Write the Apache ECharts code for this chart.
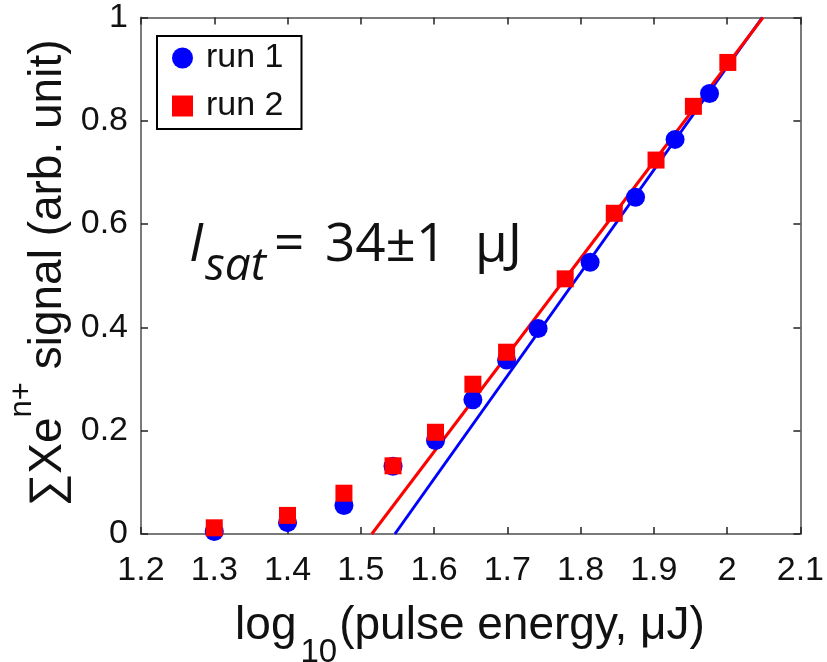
<!DOCTYPE html>
<html><head><meta charset="utf-8">
<script src="https://cdn.jsdelivr.net/npm/echarts@6/dist/echarts.min.js"></script>
<style>html,body{margin:0;padding:0;background:#fff}#c{width:827px;height:662px}</style>
</head><body><div id="c"></div>
<script>
const run1X = [1.300, 1.400, 1.477, 1.544, 1.602, 1.653, 1.699, 1.742, 1.813, 1.875, 1.929, 1.976];
const run1Y = [0.005, 0.022, 0.055, 0.131, 0.181, 0.260, 0.337, 0.398, 0.526, 0.652, 0.764, 0.853];
const run2X = [1.300, 1.400, 1.477, 1.544, 1.602, 1.653, 1.699, 1.779, 1.846, 1.903, 1.954, 2.001];
const run2Y = [0.012, 0.036, 0.079, 0.132, 0.197, 0.290, 0.352, 0.494, 0.621, 0.724, 0.828, 0.913];
const fit1X = [1.5465, 2.048];
const fit1Y = [0, 1];
const fit2X = [1.515, 2.049];
const fit2Y = [0, 1];
const xTicks = [1.2, 1.3, 1.4, 1.5, 1.6, 1.7, 1.8, 1.9, 2, 2.1];
const yTicks = [0, 0.2, 0.4, 0.6, 0.8, 1];

const zip = (a, b) => a.map((v, i) => [v, b[i]]);
const axisGray = '#7a7a7a';
const tickFont = 'Liberation Sans';

const chart = echarts.init(document.getElementById('c'), null, {renderer: 'canvas'});
const xCommon = {
  type: 'value', min: 1.2, max: 2.1, interval: 0.1,
  axisLine: {show: true, onZero: false, lineStyle: {color: axisGray, width: 2}},
  axisTick: {show: true, inside: true, length: 7, lineStyle: {color: '#222', width: 1.5}},
  splitLine: {show: false}
};
const yCommon = {
  type: 'value', min: 0, max: 1, interval: 0.2,
  axisLine: {show: true, onZero: false, lineStyle: {color: axisGray, width: 2}},
  axisTick: {show: true, inside: true, length: 7, lineStyle: {color: '#222', width: 1.5}},
  splitLine: {show: false}
};
chart.setOption({
  animation: false,
  grid: {left: 141, right: 26, top: 17.5, bottom: 128, containLabel: false},
  xAxis: [
    Object.assign({}, xCommon, {position: 'bottom',
      axisLabel: {show: true, margin: 20, fontSize: 34, fontFamily: tickFont, color: '#111',
        formatter: v => { const t = xTicks.find(k => Math.abs(k - v) < 1e-6); return t === undefined ? '' : String(t); }}}),
    Object.assign({}, xCommon, {position: 'top', axisLabel: {show: false}})
  ],
  yAxis: [
    Object.assign({}, yCommon, {position: 'left',
      axisLabel: {show: true, margin: 13, fontSize: 34, fontFamily: tickFont, color: '#111',
        formatter: v => { const t = yTicks.find(k => Math.abs(k - v) < 1e-6); return t === undefined ? '' : String(t); }}}),
    Object.assign({}, yCommon, {position: 'right', axisLabel: {show: false}})
  ],
  legend: {
    orient: 'vertical', left: 157, top: 36,
    data: [{name: 'run 1', icon: 'circle'}, {name: 'run 2', icon: 'rect'}],
    itemWidth: 21, itemHeight: 21, itemGap: 14,
    padding: [5, 18, 6, 15],
    borderColor: '#000', borderWidth: 2, backgroundColor: '#fff',
    textStyle: {fontSize: 34, fontFamily: tickFont, color: '#111', lineHeight: 33, padding: [0, 0, 0, 8]},
    selectedMode: false
  },
  series: [
    {name: 'fit 1', type: 'line', data: zip(fit1X, fit1Y), showSymbol: false, symbol: 'none',
      lineStyle: {color: '#0000ff', width: 3}, itemStyle: {color: '#0000ff'}, z: 2, silent: true},
    {name: 'fit 2', type: 'line', data: zip(fit2X, fit2Y), showSymbol: false, symbol: 'none',
      lineStyle: {color: '#ff0000', width: 3}, itemStyle: {color: '#ff0000'}, z: 3, silent: true},
    {name: 'run 1', type: 'scatter', data: zip(run1X, run1Y), symbol: 'circle', symbolSize: 19,
      itemStyle: {color: '#0000ff', opacity: 1}, z: 4},
    {name: 'run 2', type: 'scatter', data: zip(run2X, run2Y), symbol: 'rect', symbolSize: 17,
      itemStyle: {color: '#ff0000', opacity: 1}, z: 5}
  ],
  graphic: [
    {type: 'text', x: 29.5, y: 273, rotation: Math.PI / 2, z: 10,
      style: {
        text: '{m|\u2211Xe}{s|n+}{m| signal (arb. unit)}',
        align: 'center', verticalAlign: 'middle', fill: '#111',
        rich: {
          m: {fontSize: 46, fontFamily: tickFont, fill: '#111', lineHeight: 46, verticalAlign: 'top', padding: [19, 0, 0, 0]},
          s: {fontSize: 31, fontFamily: tickFont, fill: '#111', lineHeight: 31, verticalAlign: 'top', padding: [0, 0, 0, 0]}
        }
      }},
    {type: 'text', x: 470, y: 626, z: 10,
      style: {
        text: '{m|log}{s|10}{m|(pulse energy, \u03bcJ)}',
        align: 'center', verticalAlign: 'middle', fill: '#111',
        rich: {
          m: {fontSize: 46, fontFamily: tickFont, fill: '#111', lineHeight: 46, verticalAlign: 'top', padding: [0, 0, 0, 0]},
          s: {fontSize: 33, fontFamily: tickFont, fill: '#111', lineHeight: 33, verticalAlign: 'top', padding: [33, 2, 0, 4]}
        }
      }},
    {type: 'text', x: 189, y: 219, z: 10,
      style: {text: 'I', font: 'italic 53px "Open Sans"', fill: '#111', align: 'left', verticalAlign: 'top'}},
    {type: 'text', x: 205, y: 244, z: 10,
      style: {text: 'sat', font: 'italic 46px "Open Sans"', fill: '#111', align: 'left', verticalAlign: 'top'}},
    {type: 'text', x: 274, y: 219, z: 10,
      style: {text: '=', font: '53px "Open Sans"', fill: '#111', align: 'left', verticalAlign: 'top'}},
    {type: 'text', x: 325, y: 219, z: 10,
      style: {text: '34\u00b11', font: '53px "Open Sans"', fill: '#111', align: 'left', verticalAlign: 'top'}},
    {type: 'text', x: 475, y: 219, z: 10,
      style: {text: '\u03bcJ', font: '53px "Open Sans"', fill: '#111', align: 'left', verticalAlign: 'top'}}
  ]
});
</script></body></html>
